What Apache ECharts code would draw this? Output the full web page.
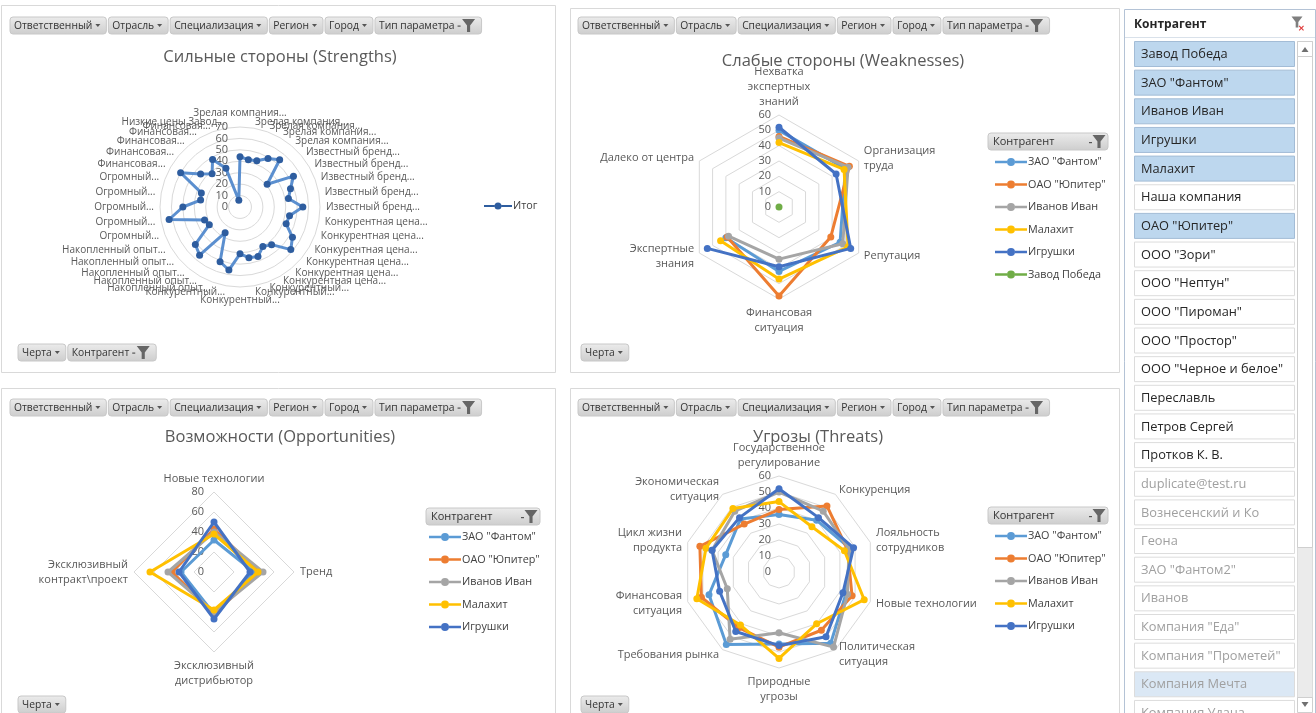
<!DOCTYPE html>
<html><head><meta charset="utf-8">
<script src="https://cdn.jsdelivr.net/npm/echarts@6/dist/echarts.min.js"></script>
<style>html,body{margin:0;padding:0;background:#fff;}#c{width:1316px;height:713px;}</style>
</head><body><div id="c"></div>
<script>
// ---------------- DATA ----------------
const contragents = ['ЗАО "Фантом"','ОАО "Юпитер"','Иванов Иван','Малахит','Игрушки','Завод Победа'];
const seriesColors = ['#5B9BD5','#ED7D31','#A5A5A5','#FFC000','#4472C4','#70AD47'];

const strengthCats = [
 'Зрелая компания...','Зрелая компания...','Зрелая компания...','Зрелая компания...','Зрелая компания...',
 'Известный бренд...','Известный бренд...','Известный бренд...','Известный бренд...','Известный бренд...',
 'Конкурентная цена...','Конкурентная цена...','Конкурентная цена...','Конкурентная цена...','Конкурентная цена...','Конкурентная цена...',
 'Конкурентный...','Конкурентный...','Конкурентный...','Конкурентный...',
 'Накопленный опыт...','Накопленный опыт...','Накопленный опыт...','Накопленный опыт...','Накопленный опыт...',
 'Огромный...','Огромный...','Огромный...','Огромный...','Огромный...',
 'Финансовая...','Финансовая...','Финансовая...','Финансовая...','Финансовая...',
 'Низкие цены Завод...'];
const strengthValues = [44,42,43,49,54,31,54,47,43,55,44,43,53,58,43,40,46,45,41,56,51,26,55,51,31,33,63,50,35,36,60,45,38,48,36,6];
const strengthTicksMax = 70;

const weakCats = ['Нехватка\nэкспертных\nзнаний','Организация\nтруда','Репутация','Финансовая\nситуация','Экспертные\nзнания','Далеко от центра'];
const weakFantom  = [50, 50, 46, 42, 40, null];
const weakJupiter = [46, 53, 39, 58, 39, null];
const weakIvanov  = [45, 52, 48, 34, 38, null];
const weakMalachit= [42, 49, 52, 47, 44, null];
const weakToys    = [52, 43, 54, 39, 54, null];
const weakPobeda  = [null, null, null, null, null, 0];
const weakTicksMax = 60;

const oppCats = ['Новые технологии','Тренд','Эксклюзивный\nдистрибьютор','Эксклюзивный\nконтракт\\проект'];
const oppFantom   = [32, 40, 42, 33];
const oppJupiter  = [43, 45, 42, 42];
const oppIvanov   = [40, 49, 40, 46];
const oppMalachit = [38, 44, 38, 64];
const oppToys     = [50, 36, 47, 35];
const oppTicksMax = 80;

const threatCats = ['Государственное\nрегулирование','Конкуренция','Лояльность\nсотрудников','Новые технологии','Политическая\nситуация','Природные\nугрозы','Требования рынка','Финансовая\nситуация','Цикл жизни\nпродукта','Экономическая\nситуация'];
const thrFantom   = [36, 40, 47, 44, 55, 45, 56, 46, 35, 41];
const thrJupiter  = [39, 51, 45, 48, 45, 47, 43, 51, 52, 37];
const thrIvanov   = [50, 47, 46, 45, 58, 38, 52, 34, 44, 47];
const thrMalachit = [44, 35, 43, 56, 40, 54, 41, 54, 48, 49];
const thrToys     = [52, 42, 49, 42, 50, 46, 46, 39, 44, 42];
const thrTicksMax = 60;

const filterLabels = ['Ответственный','Отрасль','Специализация','Регион','Город','Тип параметра'];
const titles = ['Сильные стороны (Strengths)','Слабые стороны (Weaknesses)','Возможности (Opportunities)','Угрозы (Threats)'];
const slicerTitle = 'Контрагент';
const slicerItems = ['Завод Победа','ЗАО "Фантом"','Иванов Иван','Игрушки','Малахит','Наша компания','ОАО "Юпитер"','ООО "Зори"','ООО "Нептун"','ООО "Пироман"','ООО "Простор"','ООО "Черное и белое"','Переславль','Петров Сергей','Протков К. В.','duplicate@test.ru','Вознесенский и Ко','Геона','ЗАО "Фантом2"','Иванов','Компания "Еда"','Компания "Прометей"','Компания Мечта','Компания Удача'];
const slicerState = ['sel','sel','sel','sel','sel','on','sel','on','on','on','on','on','on','on','on','off','off','off','off','off','off','off','offsel','off'];

// ---------------- HELPERS ----------------
const FONT = '"Open Sans", "Noto Sans", sans-serif';
const cv = document.createElement('canvas').getContext('2d');
function tw(t, size, weight){ cv.font = (weight||'normal') + ' ' + size + 'px ' + FONT; return cv.measureText(t).width; }
// ECharts radar places indicators counter-clockwise; Excel goes clockwise
function toEc(arr){ return [arr[0]].concat(arr.slice(1).reverse()); }

const els = [];
const btnGrad = () => new echarts.graphic.LinearGradient(0,0,0,1,[{offset:0,color:'#ececec'},{offset:1,color:'#cdcdcd'}]);
function funnel(cx, cy, s, color){
  els.push({type:'polygon', shape:{points:[[cx-5*s,cy-5*s],[cx+5*s,cy-5*s],[cx+1.2*s,cy],[cx+1.2*s,cy+5*s],[cx-1.2*s,cy+5*s],[cx-1.2*s,cy]]}, style:{fill:color}});
}
function button(x, y, label, withFunnel){
  const fs = 10.3, h = 17;
  const w = tw(label, fs) + 7 + (withFunnel ? 24 : 11);
  els.push({type:'rect', shape:{x:x, y:y, width:w, height:h, r:3}, style:{fill:btnGrad(), stroke:'#c8c8c8', lineWidth:1}});
  els.push({type:'text', x:x+4, y:y+h/2+0.5, style:{text:label, font:fs+'px '+FONT, fill:'#333', align:'left', verticalAlign:'middle'}});
  const ax = x + 4 + tw(label, fs) + 4;
  if (withFunnel){
    els.push({type:'rect', shape:{x:ax-1, y:y+h/2, width:3, height:1.2}, style:{fill:'#555'}});
    funnel(ax + 10, y + h/2, 1.3, '#666');
  } else {
    els.push({type:'polygon', shape:{points:[[ax-1,y+7],[ax+4,y+7],[ax+1.5,y+10]]}, style:{fill:'#555'}});
  }
  return w;
}
function buttonRow(x, y, labels){
  labels.forEach((l,i)=>{ x += button(x, y, l, i === labels.length-1) + 2; });
}
function legendHeader(x, y, w){
  els.push({type:'rect', shape:{x:x, y:y, width:w, height:17, r:3}, style:{fill:btnGrad(), stroke:'#c8c8c8'}});
  els.push({type:'text', x:x+5, y:y+9, style:{text:slicerTitle, font:'11px '+FONT, fill:'#333', verticalAlign:'middle'}});
  els.push({type:'rect', shape:{x:x+w-19, y:y+9, width:3, height:1.2}, style:{fill:'#555'}});
  funnel(x+w-9, y+8.5, 1.3, '#666');
}

// panel borders
[[1,5,554,367],[570,8,549,364],[1,388,554,330],[570,388,549,330]].forEach(r=>{
  els.push({type:'rect', shape:{x:r[0]+0.5,y:r[1]+0.5,width:r[2],height:r[3]}, style:{fill:'none', stroke:'#d9d9d9', lineWidth:1}, z:-1});
});

buttonRow(10, 17, filterLabels);
buttonRow(578, 17, filterLabels);
buttonRow(10, 399, filterLabels);
buttonRow(578, 399, filterLabels);
(function(){ let x = 18; x += button(x, 344, 'Черта', false) + 2; button(x, 344, 'Контрагент', true); })();
button(581, 344, 'Черта', false);
button(18, 696, 'Черта', false);
button(581, 696, 'Черта', false);

[[titles[0],280,57],[titles[1],843,61],[titles[2],280,437],[titles[3],818,437]].forEach(t=>{
  els.push({type:'text', x:t[1], y:t[2], style:{text:t[0], font:'16.5px '+FONT, fill:'#595959', align:'center', verticalAlign:'middle'}});
});

legendHeader(988, 133, 120);
legendHeader(426, 508, 114);
legendHeader(988, 507, 120);

// slicer
els.push({type:'rect', shape:{x:1124.5, y:9.5, width:191, height:710}, style:{fill:'#fff', stroke:'#b4c3d6', lineWidth:1}, z:-1});
els.push({type:'text', x:1134, y:25, style:{text:slicerTitle, font:'bold 12px '+FONT, fill:'#262626', verticalAlign:'middle'}});
funnel(1297, 22, 1.1, '#7f7f7f');
els.push({type:'text', x:1301, y:29, style:{text:'✕', font:'bold 8px '+FONT, fill:'#e03b3b', align:'center', verticalAlign:'middle'}});
els.push({type:'line', shape:{x1:1125, y1:37.5, x2:1315, y2:37.5}, style:{stroke:'#d9e1ea'}});
slicerItems.forEach((name,i)=>{
  const y = 41.5 + i*28.65, st = slicerState[i];
  const fill = st==='sel' ? '#bdd7ee' : (st==='offsel' ? '#dbe8f5' : '#ffffff');
  const stroke = st==='sel' ? '#a3bcd6' : '#dcdcdc';
  const col = (st==='sel'||st==='on') ? '#262626' : '#a0a0a0';
  els.push({type:'rect', shape:{x:1134.5, y:y, width:160, height:25}, style:{fill:fill, stroke:stroke}});
  els.push({type:'text', x:1141, y:y+13, style:{text:name, font:'12.8px '+FONT, fill:col, verticalAlign:'middle'}});
});
// scrollbar
els.push({type:'rect', shape:{x:1297.5, y:41.5, width:15, height:670}, style:{fill:'#ebebeb', stroke:'#dcdcdc'}});
els.push({type:'rect', shape:{x:1297.5, y:41.5, width:15, height:506}, style:{fill:'#ffffff', stroke:'#cfcfcf'}});
els.push({type:'rect', shape:{x:1297.5, y:41.5, width:15, height:15}, style:{fill:'#ffffff', stroke:'#cfcfcf'}});
els.push({type:'polygon', shape:{points:[[1301.5,52],[1308.5,52],[1305,47]]}, style:{fill:'#707070'}});
els.push({type:'rect', shape:{x:1297.5, y:697.5, width:15, height:15}, style:{fill:'#ffffff', stroke:'#cfcfcf'}});
els.push({type:'polygon', shape:{points:[[1301.5,702],[1308.5,702],[1305,707]]}, style:{fill:'#707070'}});

// ---------------- CHART ----------------
function makeRadar(cats, max, split, center, radius, nameSize, labelMargin){
  const tickStyle = {color:'#595959', fontSize:11, fontFamily:FONT};
  const ind = cats.map((n,i)=> i===0
    ? {name:n, min:0, max:max, axisLabel:Object.assign({show:true, margin:labelMargin}, tickStyle)}
    : {name:n, min:0, max:max});
  return {
    center:center, radius:radius, startAngle:90, shape:'polygon', splitNumber:split,
    indicator: toEc(ind),
    axisName: {color:'#595959', fontSize:nameSize, fontFamily:FONT, lineHeight:15},
    nameGap: 6,
    axisLine:{show:false}, axisTick:{show:false}, axisLabel:{show:false},
    splitLine:{lineStyle:{color:'#d9d9d9', width:1}},
    splitArea:{show:false}
  };
}
const radars = [
  makeRadar(strengthCats, strengthTicksMax, 7, [240,207], 80, 10, 12),
  makeRadar(weakCats, weakTicksMax, 6, [779,207], 92, 11, 8),
  makeRadar(oppCats, oppTicksMax, 4, [214,572], 80, 11, 10),
  makeRadar(threatCats, thrTicksMax, 6, [779,572], 96, 11, 8)
];

const series = [];
series.push({type:'radar', radarIndex:0, symbol:'circle', symbolSize:7,
  lineStyle:{width:3, color:'#5b8fcf'}, itemStyle:{color:'#2e5d9f'},
  data:[{name:'Итог', value: toEc(strengthValues)}]});

[weakFantom, weakJupiter, weakIvanov, weakMalachit, weakToys, weakPobeda].forEach((vals,i)=>{
  series.push({type:'line', coordinateSystem:'polar', polarIndex:0, name:contragents[i], data:vals,
    symbol:'circle', symbolSize:7, showSymbol:true, connectNulls:false,
    lineStyle:{width:3, color:seriesColors[i]}, itemStyle:{color:seriesColors[i]}, z:2+i});
});
[oppFantom, oppJupiter, oppIvanov, oppMalachit, oppToys].forEach((vals,i)=>{
  series.push({type:'radar', radarIndex:2, symbol:'circle', symbolSize:7,
    lineStyle:{width:3, color:seriesColors[i]}, itemStyle:{color:seriesColors[i]},
    data:[{name:contragents[i], value: toEc(vals)}], z:2+i});
});
[thrFantom, thrJupiter, thrIvanov, thrMalachit, thrToys].forEach((vals,i)=>{
  series.push({type:'radar', radarIndex:3, symbol:'circle', symbolSize:7,
    lineStyle:{width:3, color:seriesColors[i]}, itemStyle:{color:seriesColors[i]},
    data:[{name:contragents[i], value: toEc(vals)}], z:2+i});
});

const legIcon = 'path://M0,2.8H12V5.2H0Z M20,2.8H32V5.2H20Z M12,4A4,4,0,1,0,20,4A4,4,0,1,0,12,4Z';
function legend(names, left, top, w){
  return {data:names, orient:'vertical', left:left, top:top, icon:legIcon, itemWidth:w, itemHeight:8,
    itemGap:8.5, padding:0, selectedMode:false,
    textStyle:{color:'#404040', fontSize:10.8, fontFamily:FONT, lineHeight:14, padding:[0,0,0,-4]}};
}

const option = {
  animation:false,
  backgroundColor:'#ffffff',
  radar: radars,
  polar: [{center:[779,207], radius:92}],
  angleAxis: [{polarIndex:0, type:'category', data:weakCats, boundaryGap:false, startAngle:90, clockwise:true,
    axisLine:{show:false}, axisTick:{show:false}, axisLabel:{show:false}, splitLine:{show:false}}],
  radiusAxis: [{polarIndex:0, min:0, max:weakTicksMax, axisLine:{show:false}, axisTick:{show:false}, axisLabel:{show:false}, splitLine:{show:false}}],
  legend: [
    legend(['Итог'], 484, 199, 28),
    legend(contragents, 995, 155, 32),
    legend(contragents.slice(0,5), 429, 530, 32),
    legend(contragents.slice(0,5), 995, 529, 32)
  ],
  graphic: {elements: els},
  series: series
};
const chart = echarts.init(document.getElementById('c'), null, {renderer:'canvas'});
chart.setOption(option);
</script></body></html>
